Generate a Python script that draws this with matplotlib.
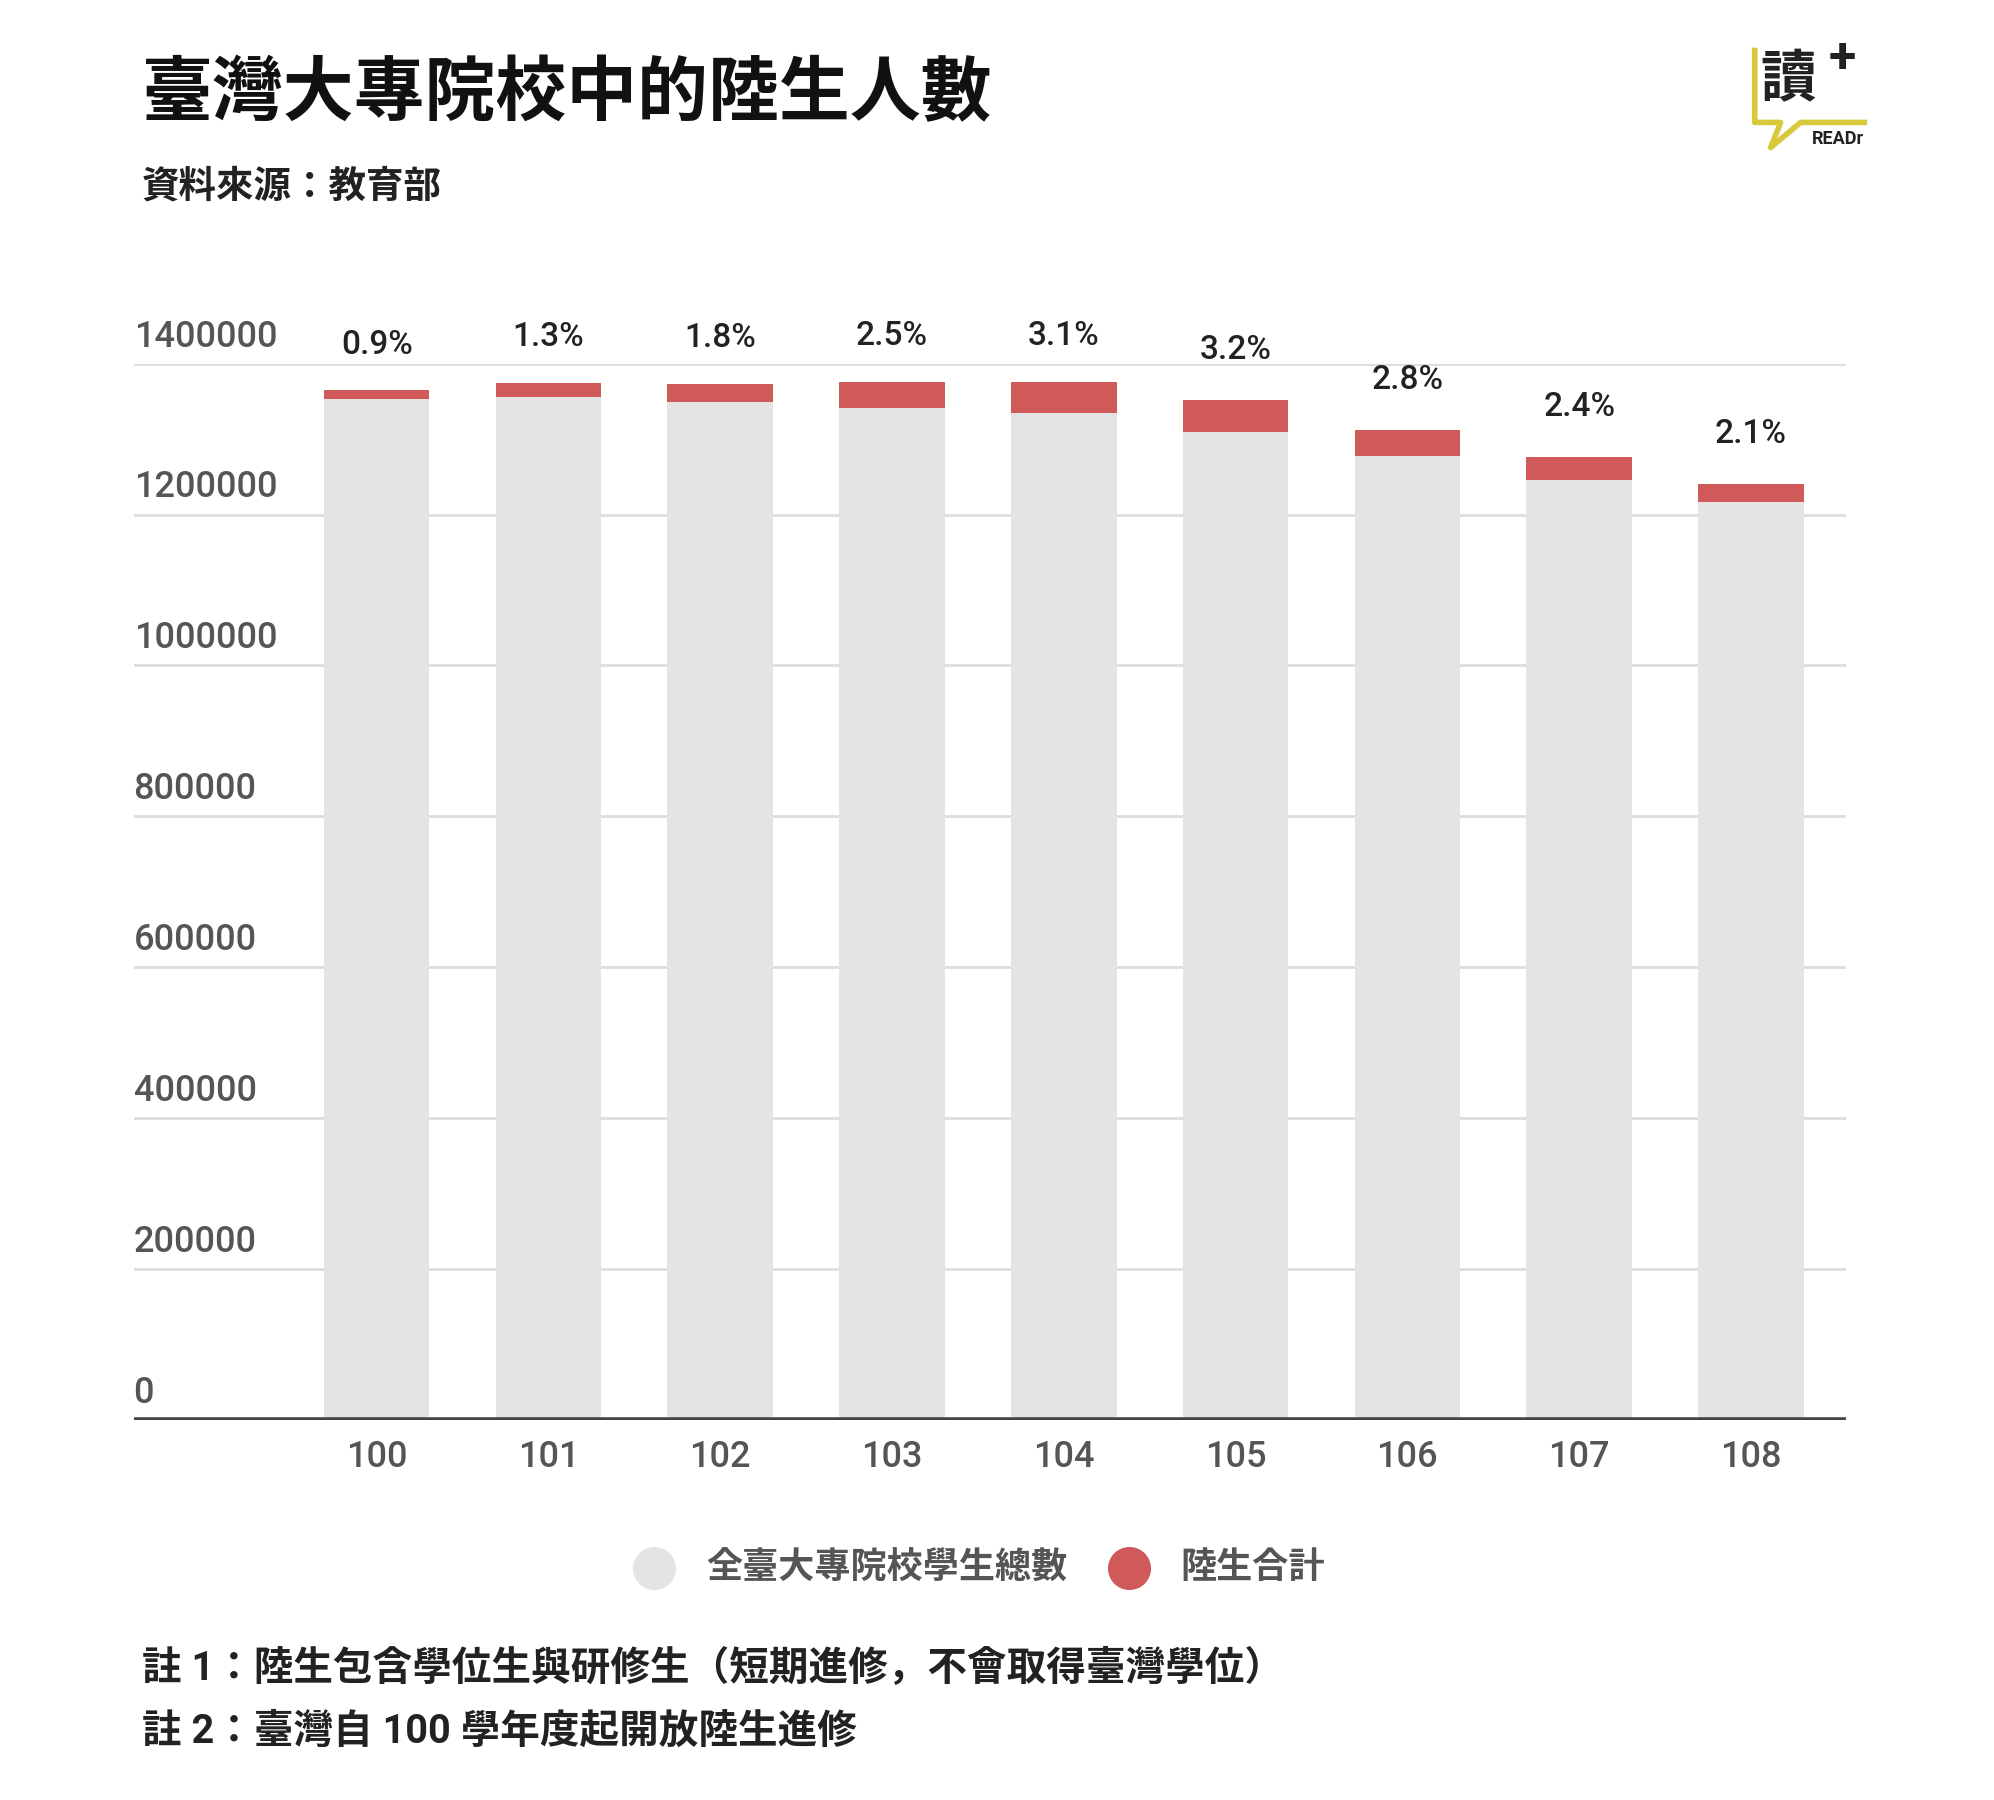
import matplotlib
matplotlib.use("Agg")
import matplotlib.pyplot as plt
from matplotlib.lines import Line2D

years = ["100", "101", "102", "103", "104", "105", "106", "107", "108"]
others = [1353000, 1356000, 1349000, 1341000, 1334000, 1310000, 1277000, 1246000, 1216000]
mainland = [12000, 18000, 24000, 35000, 42000, 42000, 35000, 30000, 25000]
pct_labels = ["0.9%", "1.3%", "1.8%", "2.5%", "3.1%", "3.2%", "2.8%", "2.4%", "2.1%"]
yticks = [0, 200000, 400000, 600000, 800000, 1000000, 1200000, 1400000]

plt.rcParams["font.family"] = ["Roboto", "Noto Sans CJK JP", "Noto Sans CJK TC", "DejaVu Sans"]
GRAY = "#e4e4e4"
RED = "#d05a59"

fig = plt.figure(figsize=(19.94, 18), dpi=100)
ax = fig.add_axes([0.067, 0.211, 0.859, 0.587])
x = list(range(len(years)))
ax.bar(x, others, width=0.615, color=GRAY, zorder=2)
ax.bar(x, mainland, bottom=others, width=0.615, color=RED, zorder=2)
offs = [38000, 40000, 40000, 40000, 40000, 45000, 45000, 45000, 45000]
for i in x:
    ax.text(i, others[i] + mainland[i] + offs[i], pct_labels[i], ha="center", va="bottom",
            fontsize=24, fontweight="medium", color="#222", clip_on=False)
ax.set_xlim(-1.415, 8.556)
ax.set_ylim(0, 1400000)
ax.set_yticks(yticks)
ax.set_yticklabels([])
for v in yticks:
    ax.axhline(v, color="#dddddd", lw=2, zorder=1)
    ax.text(0.0, v + 12000, str(v), transform=ax.get_yaxis_transform(), ha="left", va="bottom",
            fontsize=26, fontweight="medium", color="#555")
ax.axhline(0, color="#444", lw=4, zorder=3)
ax.set_xticks(x)
ax.set_xticklabels(years, fontsize=26, fontweight="medium", color="#555")
ax.tick_params(length=0, pad=14)
for s in ax.spines.values():
    s.set_visible(False)

fig.text(0.071, 0.947, "臺灣大專院校中的陸生人數", fontsize=51, fontweight="bold", va="center", color="#111")
fig.text(0.071, 0.896, "資料來源：教育部", fontsize=27, fontweight="bold", va="center", color="#222")

# logo
fig.text(0.883, 0.955, "讀", fontsize=40, fontweight="bold", va="center", color="#222")
fig.text(0.917, 0.967, "+", fontsize=36, fontweight="bold", va="center", color="#222")
fig.text(0.935, 0.923, "READr", fontsize=13, fontweight="bold", ha="right", va="center", color="#222")
fig.add_artist(Line2D([0.880, 0.880, 0.893, 0.888, 0.903, 0.935],
                      [0.972, 0.932, 0.932, 0.918, 0.932, 0.932], color="#d8c93a", lw=4))

# legend
fig.add_artist(Line2D([0.328], [0.129], marker="o", markersize=30, color=GRAY, lw=0))
fig.text(0.354, 0.129, "全臺大專院校學生總數", fontsize=26, fontweight="bold", va="center", color="#555")
fig.add_artist(Line2D([0.566], [0.129], marker="o", markersize=30, color=RED, lw=0))
fig.text(0.592, 0.129, "陸生合計", fontsize=26, fontweight="bold", va="center", color="#555")

fig.text(0.071, 0.073, "註 1：陸生包含學位生與研修生（短期進修，不會取得臺灣學位）", fontsize=28.5, fontweight="bold", va="center", color="#222")
fig.text(0.071, 0.038, "註 2：臺灣自 100 學年度起開放陸生進修", fontsize=28.5, fontweight="bold", va="center", color="#222")

fig.savefig("out.png", dpi=100, facecolor="white")
